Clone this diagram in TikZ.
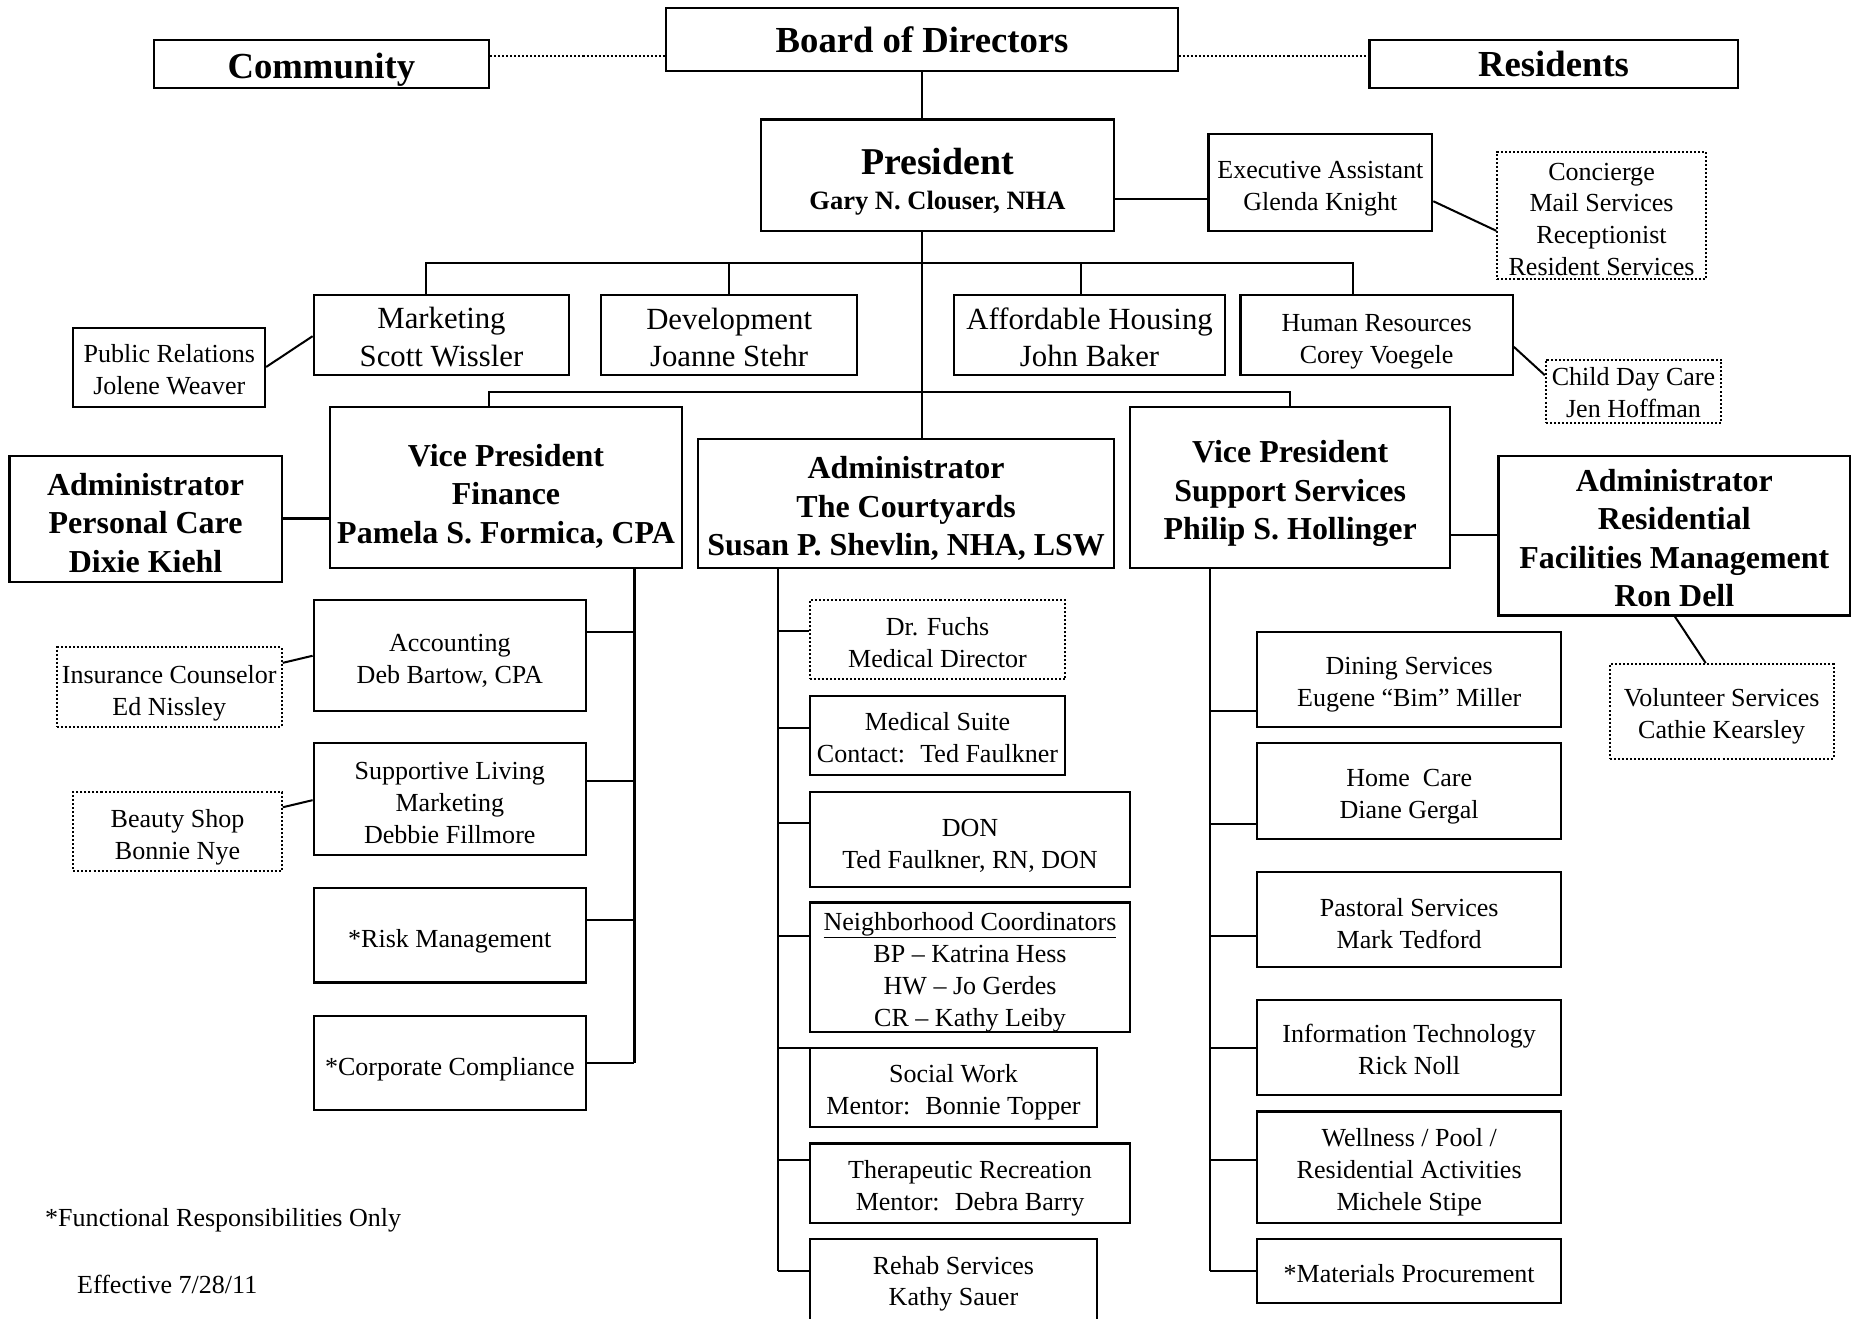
\documentclass[tikz,border=0pt]{standalone}
\usepackage{fontspec}
\setmainfont{Liberation Serif}
\newcommand\tup[1]{\rule{0pt}{\dimexpr0.7em+#1\relax}}
\begin{document}
\begin{tikzpicture}[x=1pt,y=-1pt,
  box/.style={draw, line width=1.8pt, rectangle, inner sep=0pt, align=center, font=\fontsize{22}{27}\selectfont},
  dbox/.style={box, line width=1.7pt, dash pattern=on 1.7pt off 1.7pt},
  mid/.style={font=\fontsize{26}{32}\selectfont},
  bigb/.style={font=\fontsize{27}{32.5}\selectfont\bfseries},
  topb/.style={font=\fontsize{31}{36}\selectfont\bfseries},
  conn/.style={line width=1.8pt},
  diag/.style={line width=1.7pt},
  dotc/.style={line width=1.7pt, dash pattern=on 1.7pt off 1.7pt},
  note/.style={anchor=west, inner sep=0pt, font=\fontsize{22}{27}\selectfont}
  ]
\useasboundingbox (0,0) rectangle (1568,1114);

% top row
\node[box, topb, minimum width=283, minimum height=40] (comm) at (271.5,54) {\tup{10pt}Community};
\node[box, topb, minimum width=432, minimum height=53] (board) at (779,33.5) {\tup{0pt}Board of Directors};
\node[box, topb, minimum width=311, minimum height=40] (res) at (1312.5,54) {\tup{0pt}Residents};

% president row
\node[box, minimum width=298, minimum height=94] (pres) at (792,148)
  {\rule{0pt}{33pt}{\fontsize{32}{32}\selectfont\bfseries President}\\[2pt]{\fontsize{22.4}{26}\selectfont\bfseries Gary N. Clouser, NHA}};
\node[box, minimum width=189, minimum height=82] (exec) at (1115.5,154) {\tup{10pt}Executive Assistant\\Glenda Knight};
\node[dbox, minimum width=176, minimum height=108] (conc) at (1353,182) {\tup{6pt}Concierge\\Mail Services\\Receptionist\\Resident Services};

% level 2
\node[box, mid, minimum width=216, minimum height=68] (mkt) at (373,283) {\tup{4pt}Marketing\\Scott Wissler};
\node[box, mid, minimum width=216, minimum height=68] (dev) at (616,283) {\tup{4pt}Development\\Joanne Stehr};
\node[box, mid, minimum width=229, minimum height=68] (aff) at (920.5,283) {\tup{4pt}Affordable Housing\\John Baker};
\node[box, minimum width=230, minimum height=68] (hr) at (1163,283) {\tup{10pt}Human Resources\\Corey Voegele};
\node[box, minimum width=162, minimum height=67] (pr) at (143,310.5) {\tup{4pt}Public Relations\\Jolene Weaver};
\node[dbox, minimum width=148, minimum height=53] (child) at (1380,330.5) {\tup{2pt}Child Day Care\\Jen Hoffman};

% level 3
\node[box, bigb, minimum width=297, minimum height=136] (vpf) at (427.5,412) {\tup{14pt}Vice President\\Finance\\Pamela S. Formica, CPA};
\node[box, bigb, minimum width=230, minimum height=107] (apc) at (123,438.5) {\tup{6pt}Administrator\\Personal Care\\Dixie Kiehl};
\node[box, bigb, minimum width=351, minimum height=109] (cy) at (765.5,425.5) {\tup{8pt}Administrator\\The Courtyards\\Susan P. Shevlin, NHA, LSW};
\node[box, bigb, minimum width=270, minimum height=136] (vps) at (1090,412) {\tup{10pt}Vice President\\Support Services\\Philip S. Hollinger};
\node[box, bigb, minimum width=297, minimum height=135] (ares) at (1414.5,452.5) {\tup{4pt}Administrator\\Residential\\Facilities Management\\Ron Dell};
\node[dbox, minimum width=189, minimum height=80] (vol) at (1454.5,601) {\tup{8pt}Volunteer Services\\Cathie Kearsley};

% finance children
\node[box, minimum width=230, minimum height=94] (acc) at (380,554) {\tup{8pt}Accounting\\Deb Bartow, CPA};
\node[box, minimum width=230, minimum height=94] (sup) at (380,675) {\tup{6pt}Supportive Living\\Marketing\\Debbie Fillmore};
\node[box, minimum width=230, minimum height=80] (risk) at (380,790) {\tup{10pt}*Risk Management};
\node[box, minimum width=230, minimum height=80] (comp) at (380,898) {\tup{10pt}*Corporate Compliance};
\node[dbox, minimum width=190, minimum height=67] (ins) at (143,580.5) {\tup{10pt}Insurance Counselor\\Ed Nissley};
\node[dbox, minimum width=176, minimum height=67] (beauty) at (150,702.5) {\tup{10pt}Beauty Shop\\Bonnie Nye};

% courtyards children
\node[dbox, minimum width=216, minimum height=67] (fuchs) at (792,540.5) {\tup{4pt}Dr. Fuchs\\Medical Director};
\node[box, minimum width=216, minimum height=67] (msuite) at (792,621.5) {\tup{4pt}Medical Suite\\Contact:~ Ted Faulkner};
\node[box, minimum width=271, minimum height=80] (don) at (819.5,709) {\tup{10pt}DON\\Ted Faulkner, RN, DON};
\node[box, minimum width=271, minimum height=108] (nbh) at (819.5,817) {\tup{8pt}\underline{Neighborhood Coordinators}\\BP – Katrina Hess\\HW – Jo Gerdes\\CR – Kathy Leiby};
\node[box, minimum width=243, minimum height=67] (social) at (805.5,918.5) {\tup{8pt}Social Work\\Mentor:~ Bonnie Topper};
\node[box, minimum width=271, minimum height=67] (thera) at (819.5,999.5) {\tup{8pt}Therapeutic Recreation\\Mentor:~ Debra Barry};
\node[box, minimum width=243, minimum height=69] (rehab) at (805.5,1081.5) {\tup{6pt}Rehab Services\\Kathy Sauer};

% support children
\node[box, minimum width=257, minimum height=80] (dining) at (1190.5,574) {\tup{8pt}Dining Services\\Eugene “Bim” Miller};
\node[box, minimum width=257, minimum height=81] (home) at (1190.5,668.5) {\tup{8pt}Home~~Care\\Diane Gergal};
\node[box, minimum width=257, minimum height=80] (past) at (1190.5,777) {\tup{6pt}Pastoral Services\\Mark Tedford};
\node[box, minimum width=257, minimum height=80] (it) at (1190.5,885) {\tup{4pt}Information Technology\\Rick Noll};
\node[box, minimum width=257, minimum height=94] (well) at (1190.5,986) {\tup{8pt}Wellness / Pool /\\Residential Activities\\Michele Stipe};
\node[box, minimum width=257, minimum height=54] (mat) at (1190.5,1074) {\tup{3pt}*Materials Procurement};

% notes
\node[note] (fn) at (38,1031) {*Functional Responsibilities Only};
\node[note] (eff) at (65,1085) {Effective 7/28/11};

% coordinates for buses and spines
\coordinate (bus2L) at (360,222);
\coordinate (bus2R) at (1143,222);
\coordinate (affd) at (913,222);
\coordinate (bus3L) at (413,331);
\coordinate (fsp) at (536,0);
\coordinate (csp) at (657,0);
\coordinate (ssp) at (1022,0);

% dotted top links
\draw[dotc] (comm.east |- 0,47) -- (board.west |- 0,47);
\draw[dotc] (board.east |- 0,47) -- (res.west |- 0,47);

% main spine
\draw[conn] (board.south) -- (board.south |- pres.north);
\draw[conn] (pres.south -| board.south) -- (cy.north -| board.south);
\draw[conn] (pres.east |- 0,168) -- (exec.west |- 0,168);
\draw[diag] (exec.east |- 0,170) -- (conc.west |- 0,195);

% level 2 bus
\draw[conn] (mkt.north -| bus2L) -- (bus2L) -- (bus2R) -- (hr.north -| bus2R);
\draw[conn] (dev.north) -- (dev.north |- bus2L);
\draw[conn] (affd) -- (aff.north -| affd);
\draw[diag] (mkt.west |- 0,284) -- (pr.east |- 0,310);
\draw[diag] (hr.east |- 0,293) -- (child.west |- 0,317);

% level 3 bus
\draw[conn] (vpf.north -| bus3L) -- (bus3L) -- (bus3L -| vps.north) -- (vps.north);
\draw[conn] (apc.east |- 0,438) -- (vpf.west |- 0,438);
\draw[conn] (vps.east |- 0,452) -- (ares.west |- 0,452);
\draw[diag] (ares.south -| 1415,0) -- (vol.north -| 1441,0);

% finance spine
\draw[conn] (vpf.south -| fsp) -- (fsp |- 0,898);
\draw[conn] (acc.east |- 0,534) -- (fsp |- 0,534);
\draw[conn] (sup.east |- 0,660) -- (fsp |- 0,660);
\draw[conn] (risk.east |- 0,777) -- (fsp |- 0,777);
\draw[conn] (comp.east |- 0,898) -- (fsp |- 0,898);
\draw[diag] (acc.west |- 0,554) -- (ins.east |- 0,560);
\draw[diag] (sup.west |- 0,676) -- (beauty.east |- 0,682);

% courtyards spine
\draw[conn] (cy.south -| csp) -- (csp |- 0,1074);
\draw[conn] (csp |- 0,533) -- (fuchs.west |- 0,533);
\draw[conn] (csp |- 0,615) -- (msuite.west |- 0,615);
\draw[conn] (csp |- 0,695) -- (don.west |- 0,695);
\draw[conn] (csp |- 0,791) -- (nbh.west |- 0,791);
\draw[conn] (csp |- 0,885) -- (social.west |- 0,885);
\draw[conn] (csp |- 0,980) -- (thera.west |- 0,980);
\draw[conn] (csp |- 0,1074) -- (rehab.west |- 0,1074);

% support spine
\draw[conn] (vps.south -| ssp) -- (ssp |- 0,1074);
\draw[conn] (ssp |- 0,601) -- (dining.west |- 0,601);
\draw[conn] (ssp |- 0,696) -- (home.west |- 0,696);
\draw[conn] (ssp |- 0,791) -- (past.west |- 0,791);
\draw[conn] (ssp |- 0,885) -- (it.west |- 0,885);
\draw[conn] (ssp |- 0,980) -- (well.west |- 0,980);
\draw[conn] (ssp |- 0,1074) -- (mat.west |- 0,1074);
\end{tikzpicture}
\end{document}
